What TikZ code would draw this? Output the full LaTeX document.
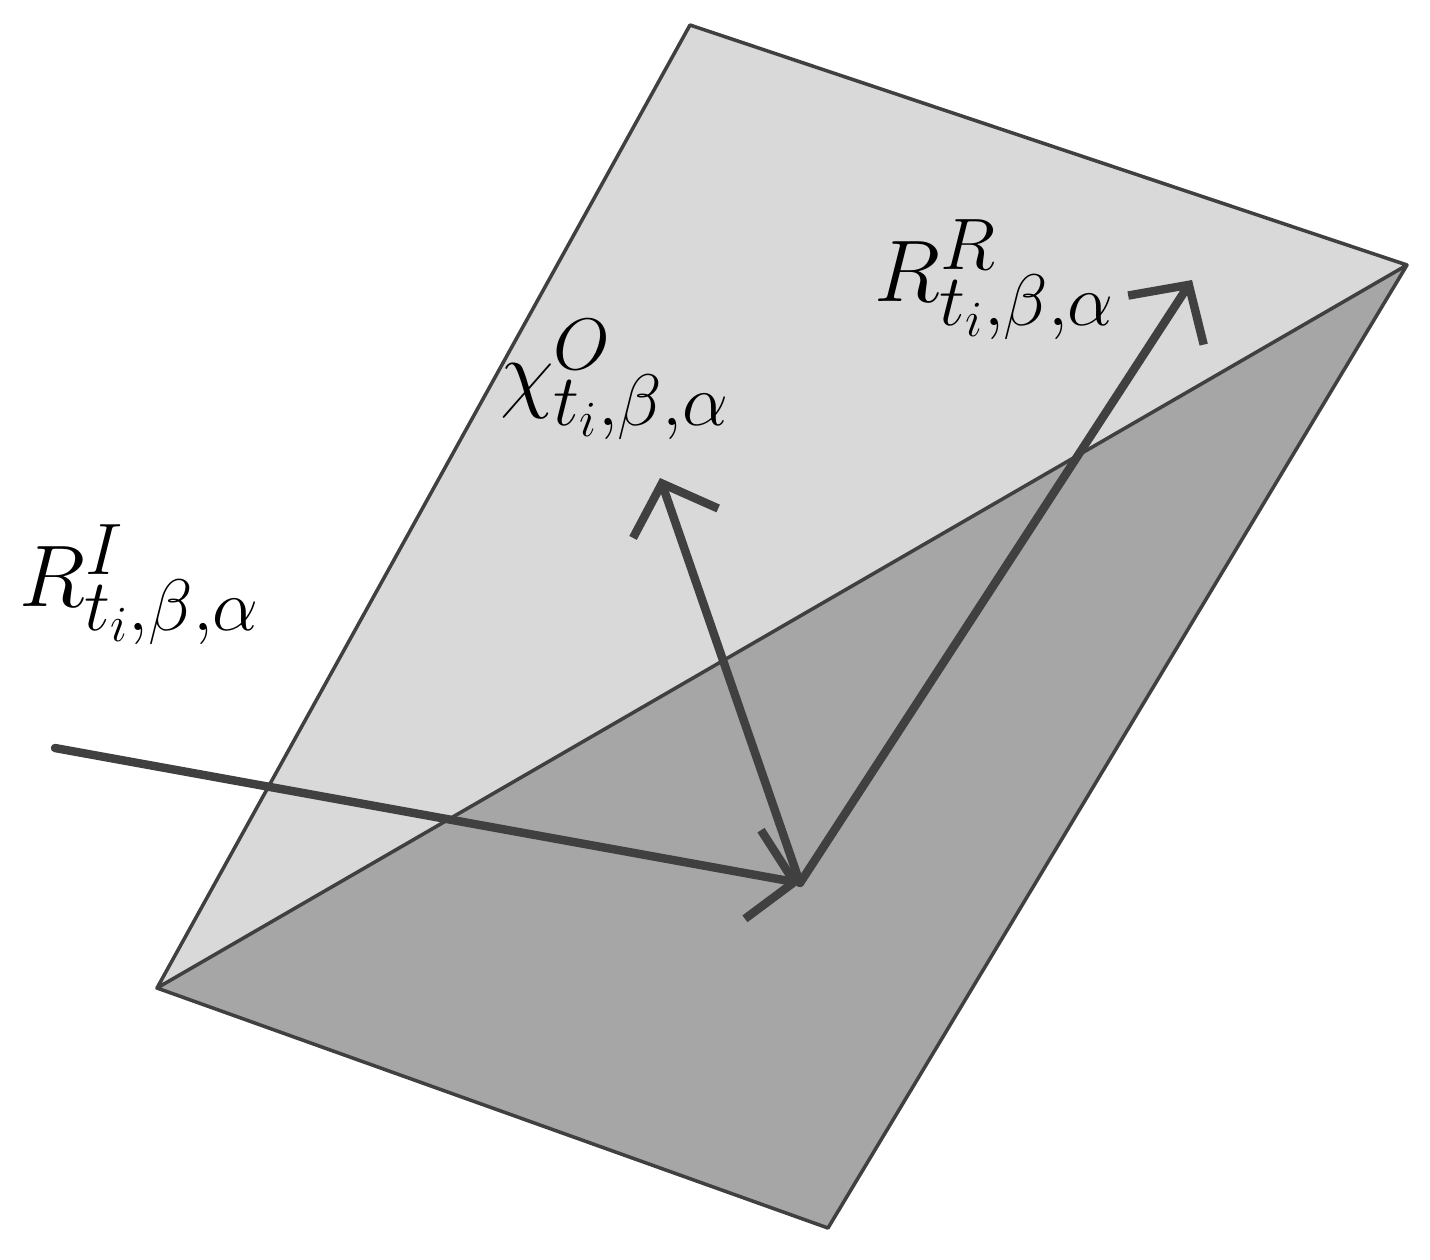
\documentclass[tikz,border=0pt]{standalone}
\usetikzlibrary{arrows.meta}
\begin{document}
\begin{tikzpicture}[x=0.01cm,y=-0.01cm,
  vec/.style={line width=2.4pt,draw=black!75,line cap=round,-{Straight Barb[length=0.42cm,width=0.9cm,line width=2.4pt]}},
  lab/.style={font=\fontsize{29}{32}\selectfont,inner sep=0pt}]
\useasboundingbox (0,0) rectangle (1430,1259);
\coordinate (T) at (690,25);\coordinate (Rt) at (1407,265);
\coordinate (B) at (828,1228);\coordinate (L) at (157,988);
\fill[black!15] (L)--(T)--(Rt)--cycle;
\fill[black!35] (L)--(Rt)--(B)--cycle;
\draw[black!75,line width=1pt,line join=round] (L)--(T)--(Rt)--(B)--cycle (L)--(Rt);
\coordinate (S) at (55,748);\coordinate (O) at (800,883);
\coordinate (C) at (660,478);\coordinate (E) at (1192,280);
\draw[vec] (S)--(O);
\draw[vec] (O)--(C);
\draw[vec] (O)--(E);
\node[lab] (ri) at (140,585) {$R^{I}_{t_i,\beta,\alpha}$};
\node[lab] (chi) at (615,380) {$\chi^{O}_{t_i,\beta,\alpha}$};
\node[lab] (rr) at (995,280) {$R^{R}_{t_i,\beta,\alpha}$};
\end{tikzpicture}
\end{document}
